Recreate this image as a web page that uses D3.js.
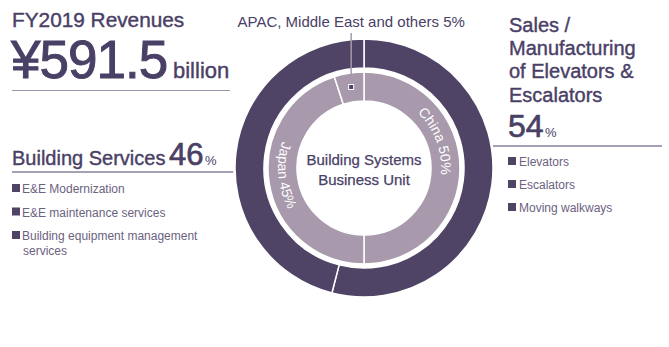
<!DOCTYPE html>
<html>
<head>
<meta charset="utf-8">
<script src="https://cdn.jsdelivr.net/npm/d3@7"></script>
<style>
  body { margin: 0; background: #fff; }
  text { font-family: "Liberation Sans", Arial, Helvetica, sans-serif; }
  .head { stroke: #4a4066; stroke-width: 0.4px; }
  .big { stroke: #4a4066; stroke-width: 1px; }
</style>
</head>
<body>
<div id="chart"></div>
<script>
// Business segments (outer ring), clockwise from 12 o'clock
var segments = ["Sales / Manufacturing of Elevators & Escalators", "Building Services"]
var segmentShares = [54, 46]

// Regions (inner ring), clockwise from 12 o'clock
var regions = ["China", "Japan", "APAC, Middle East and others"]
var regionShares = [50, 45, 5]

var salesItems = ["Elevators", "Escalators", "Moving walkways"]
var serviceItems = [["E&E Modernization"], ["E&E maintenance services"], ["Building equipment management", "services"]]

var revenueLabel = "FY2019 Revenues"
var revenueValue = "¥591.5"
var revenueUnit = "billion"

var dark = "#4f4466", light = "#a89aac", textCol = "#4a4066", itemCol = "#6b6280", ruleCol = "#9d93ab"

var width = 669, height = 347
var cx = 364, cy = 168

var svg = d3.select("#chart").append("svg")
    .attr("width", width)
    .attr("height", height)

// rules behind the donut
svg.append("line").attr("x1", 12).attr("x2", 230).attr("y1", 90.5).attr("y2", 90.5)
    .attr("stroke", ruleCol).attr("stroke-width", 1)
svg.append("line").attr("x1", 12).attr("x2", 300).attr("y1", 172).attr("y2", 172)
    .attr("stroke", textCol).attr("stroke-width", 1)
svg.append("line").attr("x1", 440).attr("x2", 662).attr("y1", 146).attr("y2", 146)
    .attr("stroke", textCol).attr("stroke-width", 1)

var pie = d3.pie().sort(null).value(d => d)
var outerArc = d3.arc().innerRadius(100).outerRadius(129)
var innerArc = d3.arc().innerRadius(67).outerRadius(96)

var g = svg.append("g").attr("transform", "translate(" + cx + "," + cy + ")")

g.append("circle").attr("r", 131).attr("fill", "#fff")

g.selectAll(".outer")
    .data(pie(segmentShares))
    .enter().append("path")
    .attr("class", "outer")
    .attr("d", outerArc)
    .attr("fill", dark)
    .attr("stroke", "#fff")
    .attr("stroke-width", 1.5)

var innerData = pie(regionShares)
g.selectAll(".inner")
    .data(innerData)
    .enter().append("path")
    .attr("class", "inner")
    .attr("d", innerArc)
    .attr("fill", light)
    .attr("stroke", "#fff")
    .attr("stroke-width", 1.5)

// helper: point on circle, angle clockwise from top
function pt(r, a) { return [r * Math.sin(a), -r * Math.cos(a)] }

// curved labels
var deg = Math.PI / 180
function arcPath(r, a0, a1, cw) {
    var p0 = pt(r, a0), p1 = pt(r, a1)
    return "M" + p0[0] + "," + p0[1] + " A" + r + "," + r + " 0 0 " + (cw ? 1 : 0) + " " + p1[0] + "," + p1[1]
}
var defs = svg.append("defs")
// China: clockwise, tops outward
defs.append("path").attr("id", "chinaPath")
    .attr("d", arcPath(77, innerData[0].startAngle + 44 * deg, innerData[0].endAngle, true))
// Japan: counterclockwise, tops inward
defs.append("path").attr("id", "japanPath")
    .attr("d", arcPath(86, innerData[1].endAngle - 54 * deg, innerData[1].startAngle, false))

g.append("text").attr("fill", "#fff").style("font-size", "14px")
    .append("textPath").attr("href", "#chinaPath")
    .text(regions[0] + " " + regionShares[0] + "%")
g.append("text").attr("fill", "#fff").style("font-size", "14px")
    .append("textPath").attr("href", "#japanPath")
    .text(regions[1] + " " + regionShares[1] + "%")

// APAC leader + marker
var apac = innerData[2]
var mid = pt(82, (apac.startAngle + apac.endAngle) / 2)
g.append("line").attr("x1", mid[0]).attr("x2", mid[0]).attr("y1", 33 - cy).attr("y2", mid[1])
    .attr("stroke", light).attr("stroke-width", 1.5)
g.append("rect").attr("x", mid[0] - 2.5).attr("y", mid[1] - 2.5).attr("width", 5).attr("height", 5)
    .attr("fill", dark).attr("stroke", "#fff").attr("stroke-width", 1)
svg.append("text").attr("x", cx + mid[0]).attr("y", 27).attr("text-anchor", "middle")
    .attr("fill", textCol).style("font-size", "15px")
    .text(regions[2] + " " + regionShares[2] + "%")

// center text
svg.append("text").attr("class", "head").attr("x", cx).attr("y", 165).attr("text-anchor", "middle")
    .attr("fill", textCol).style("font-size", "15px").style("stroke-width", "0.25px").text("Building Systems")
svg.append("text").attr("class", "head").attr("x", cx).attr("y", 185).attr("text-anchor", "middle")
    .attr("fill", textCol).style("font-size", "15px").style("stroke-width", "0.25px").text("Business Unit")

// title block
svg.append("text").attr("class", "head").attr("x", 12).attr("y", 27).attr("fill", textCol)
    .style("font-size", "20.8px").text(revenueLabel)
svg.append("text").attr("class", "big").attr("x", 11).attr("y", 78).attr("fill", textCol)
    .style("font-size", "53px").style("letter-spacing", "-1px").text(revenueValue)
svg.append("text").attr("class", "head").attr("x", 173).attr("y", 78).attr("fill", textCol)
    .style("font-size", "22px").text(revenueUnit)

// right block
var salesLines = ["Sales /", "Manufacturing", "of Elevators &", "Escalators"]
svg.selectAll(".salesHead").data(salesLines).enter().append("text")
    .attr("class", "head")
    .attr("x", 509).attr("y", (d, i) => 31.5 + i * 23.4)
    .attr("fill", textCol).style("font-size", "20px").text(d => d)
svg.append("text").attr("class", "big").attr("x", 508).attr("y", 137).attr("fill", textCol)
    .style("font-size", "32px").style("stroke-width", "0.7px").text(segmentShares[0])
svg.append("text").attr("x", 545).attr("y", 137).attr("fill", textCol)
    .style("font-size", "13px").text("%")
var sItems = svg.selectAll(".sItem").data(salesItems).enter().append("g")
    .attr("transform", (d, i) => "translate(508," + (166 + i * 23) + ")")
sItems.append("rect").attr("x", 0).attr("y", -9).attr("width", 8).attr("height", 8).attr("fill", dark)
sItems.append("text").attr("x", 11).attr("y", 0).attr("fill", itemCol)
    .style("font-size", "12px").text(d => d)

// left block
svg.append("text").attr("class", "head").attr("x", 12).attr("y", 164.5).attr("fill", textCol)
    .style("font-size", "20px").text("Building Services")
svg.append("text").attr("class", "big").attr("x", 169).attr("y", 164.5).attr("fill", textCol)
    .style("font-size", "31px").style("stroke-width", "0.7px").text(segmentShares[1])
svg.append("text").attr("x", 205).attr("y", 164.5).attr("fill", textCol)
    .style("font-size", "13px").text("%")
var bItems = svg.selectAll(".bItem").data(serviceItems).enter().append("g")
    .attr("transform", (d, i) => "translate(12," + (193 + i * 23.5) + ")")
bItems.append("rect").attr("x", 0).attr("y", -9).attr("width", 8).attr("height", 8).attr("fill", dark)
bItems.append("text").attr("fill", itemCol).style("font-size", "12px")
    .selectAll("tspan").data(d => d).enter().append("tspan")
    .attr("x", (d, i) => i ? 11 : 10).attr("y", (d, i) => i * 14.5)
    .text(d => d)
</script>
</body>
</html>
